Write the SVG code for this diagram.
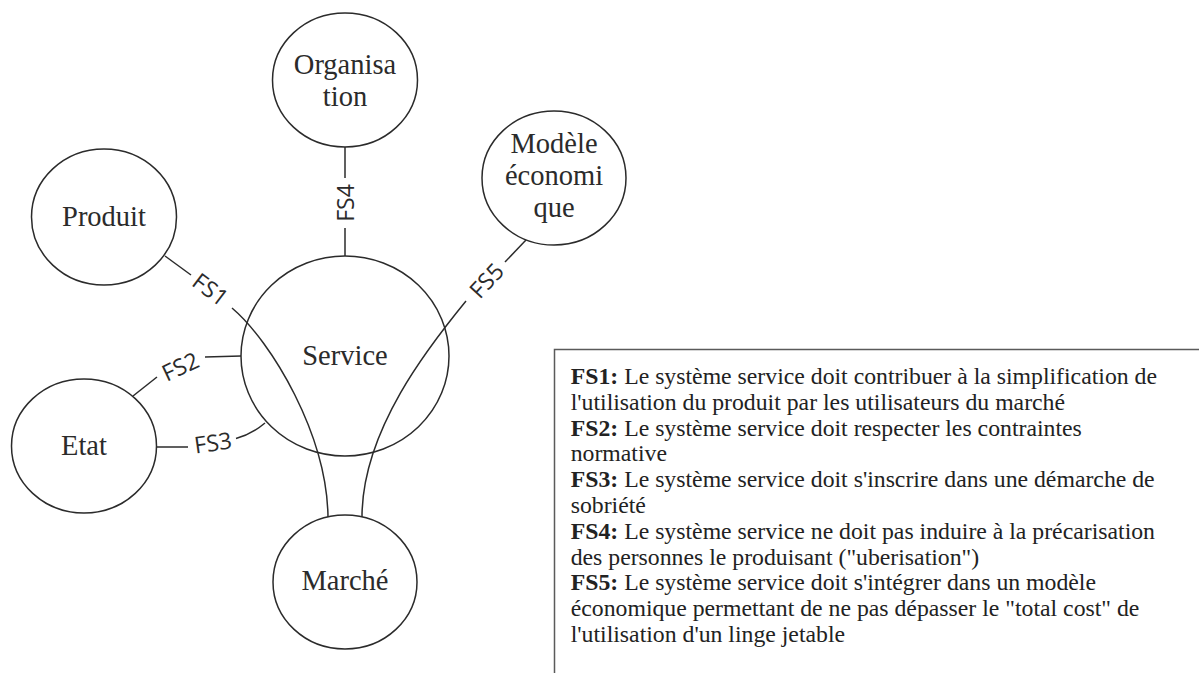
<svg xmlns="http://www.w3.org/2000/svg" width="1199" height="673" viewBox="0 0 1199 673">
  <style>
    .node { fill: #ffffff; stroke: #2b2b2b; stroke-width: 1.5; }
    .nlabel { font-family: "Liberation Serif", "Times New Roman", serif; font-size: 28.5px; fill: #2b2b2b; text-anchor: middle; }
    .edge { fill: none; stroke: #2b2b2b; stroke-width: 1.5; }
    .elabel { font-family: "Open Sans", "Noto Sans", sans-serif; font-size: 23px; fill: #2b2b2b; text-anchor: middle; dominant-baseline: central; }
    .note { font-family: "Liberation Serif", "Times New Roman", serif; font-size: 22.2px; fill: #222222; }
    .note tspan.b { font-weight: bold; }
  </style>
  <rect x="0" y="0" width="1199" height="673" fill="#ffffff"/>

  <g id="connectors">
    <!-- FS1 : Produit -> Marché -->
    <line class="edge" x1="165" y1="256" x2="191" y2="275"/>
    <path class="edge" d="M232,308 C272,342 327,435 328,517"/>
    <text class="elabel" transform="translate(211,289) rotate(37)">FS1</text>
    <!-- FS5 : Modèle économique -> Marché -->
    <line class="edge" x1="526" y1="240" x2="505" y2="262"/>
    <path class="edge" d="M466,301 C430,345 362,430 362,517"/>
    <text class="elabel" transform="translate(486,280) rotate(-47)">FS5</text>
    <!-- FS4 : Organisation -> Service -->
    <line class="edge" x1="345" y1="147" x2="345" y2="178"/>
    <line class="edge" x1="345" y1="228" x2="345" y2="256"/>
    <text class="elabel" transform="translate(345,203) rotate(-90)">FS4</text>
    <!-- FS2 : Etat -> Service -->
    <line class="edge" x1="133" y1="396" x2="157" y2="377"/>
    <line class="edge" x1="205" y1="357" x2="241" y2="356"/>
    <text class="elabel" transform="translate(180,366) rotate(-25)">FS2</text>
    <!-- FS3 : Etat -> Service -->
    <line class="edge" x1="156.5" y1="447" x2="188" y2="447"/>
    <path class="edge" d="M236,438.5 Q252,434 265,423"/>
    <text class="elabel" transform="translate(213,442) rotate(-8)">FS3</text>
  </g>

  <g id="node-organisation">
    <ellipse class="node" cx="345" cy="80" rx="72.5" ry="67"/>
    <text class="nlabel" x="345" y="74">Organisa</text>
    <text class="nlabel" x="345" y="106">tion</text>
  </g>
  <g id="node-produit">
    <ellipse class="node" cx="104" cy="217" rx="72.5" ry="68"/>
    <text class="nlabel" x="104" y="226">Produit</text>
  </g>
  <g id="node-modele">
    <ellipse class="node" cx="554" cy="178" rx="72" ry="67"/>
    <text class="nlabel" x="554" y="153">Modèle</text>
    <text class="nlabel" x="554" y="185">économi</text>
    <text class="nlabel" x="554" y="217">que</text>
  </g>
  <g id="node-service">
    <ellipse class="node" cx="345" cy="356" rx="104" ry="100" fill="none" style="fill:none"/>
    <text class="nlabel" x="345" y="364.5">Service</text>
  </g>
  <g id="node-etat">
    <ellipse class="node" cx="84" cy="446" rx="72.5" ry="67"/>
    <text class="nlabel" x="84" y="455">Etat</text>
  </g>
  <g id="node-marche">
    <ellipse class="node" cx="345" cy="582" rx="72" ry="67"/>
    <text class="nlabel" x="345" y="590">Marché</text>
  </g>

  <g id="legend">
    <rect x="554.5" y="349.5" width="700" height="400" fill="#ffffff" stroke="#5a5a5a" stroke-width="1.5"/>
    <g transform="translate(570.7,0) scale(1.07,1)">
      <text class="note" x="0" y="384"><tspan class="b">FS1:</tspan> Le système service doit contribuer à la simplification de</text>
      <text class="note" x="0" y="409.8">l'utilisation du produit par les utilisateurs du marché</text>
      <text class="note" x="0" y="435.6"><tspan class="b">FS2:</tspan> Le système service doit respecter les contraintes</text>
      <text class="note" x="0" y="461.4">normative</text>
      <text class="note" x="0" y="487.2"><tspan class="b">FS3:</tspan> Le système service doit s'inscrire dans une démarche de</text>
      <text class="note" x="0" y="513">sobriété</text>
      <text class="note" x="0" y="538.8"><tspan class="b">FS4:</tspan> Le système service ne doit pas induire à la précarisation</text>
      <text class="note" x="0" y="564.6">des personnes le produisant ("uberisation")</text>
      <text class="note" x="0" y="590.4"><tspan class="b">FS5:</tspan> Le système service doit s'intégrer dans un modèle</text>
      <text class="note" x="0" y="616.2">économique permettant de ne pas dépasser le "total cost" de</text>
      <text class="note" x="0" y="642">l'utilisation d'un linge jetable</text>
    </g>
  </g>
</svg>
